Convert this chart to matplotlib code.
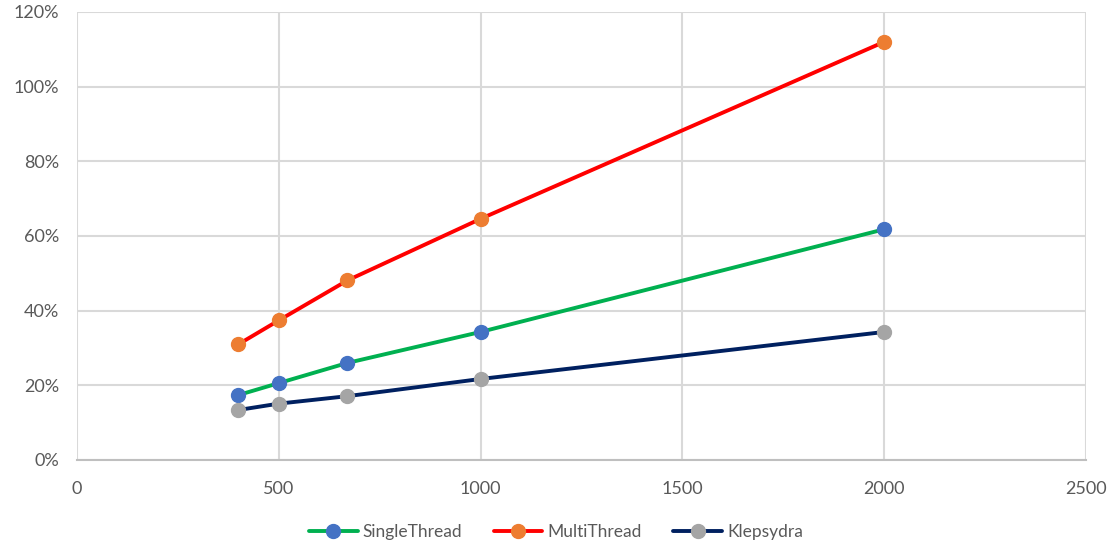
import matplotlib
matplotlib.use("Agg")
import matplotlib.pyplot as plt
from matplotlib.ticker import FuncFormatter, MultipleLocator

# Data
workload = [400, 500, 670, 1000, 2000]
single_thread = [17.4, 20.6, 26.0, 34.3, 61.8]
multi_thread = [31.0, 37.4, 48.1, 64.6, 112.0]
klepsydra = [13.4, 15.1, 17.1, 21.7, 34.3]

series = [
    ("SingleThread", single_thread, "#00b050", "#4472c4"),
    ("MultiThread", multi_thread, "#ff0000", "#ed7d31"),
    ("Klepsydra", klepsydra, "#002060", "#a5a5a5"),
]

plt.rcParams["font.family"] = ["Lato", "DejaVu Sans"]

fig = plt.figure(figsize=(11.12, 5.47), dpi=100)
ax = fig.add_axes([77 / 1112, 87 / 547, (1086 - 77) / 1112, (460 - 12) / 547])

for name, vals, lc, mc in series:
    ax.plot(workload, vals, color=lc, lw=2.8, marker="o", ms=10,
            markerfacecolor=mc, markeredgecolor=mc, label=name,
            solid_capstyle="round", zorder=3)

ax.set_xlim(0, 2500)
ax.set_ylim(0, 120)
ax.xaxis.set_major_locator(MultipleLocator(500))
ax.yaxis.set_major_locator(MultipleLocator(20))
ax.yaxis.set_major_formatter(FuncFormatter(lambda v, p: f"{v:.0f}%"))

ax.grid(True, color="#d9d9d9", lw=1.5, zorder=0)
ax.set_axisbelow(True)
for side in ["top", "right", "left"]:
    ax.spines[side].set_visible(False)
ax.spines["bottom"].set_color("#bfbfbf")
ax.spines["bottom"].set_linewidth(1.5)
ax.tick_params(length=0, labelsize=13, labelcolor="#595959")
ax.tick_params(axis="x", pad=15)
ax.tick_params(axis="y", pad=13)

leg = fig.legend(loc="center", bbox_to_anchor=(0.5, 1 - 532 / 547), ncol=3,
                 frameon=False, fontsize=12.5, handlelength=2.8,
                 columnspacing=1.8, handletextpad=0.3)
for t in leg.get_texts():
    t.set_color("#595959")

fig.savefig("out.png", dpi=100, facecolor="white")
